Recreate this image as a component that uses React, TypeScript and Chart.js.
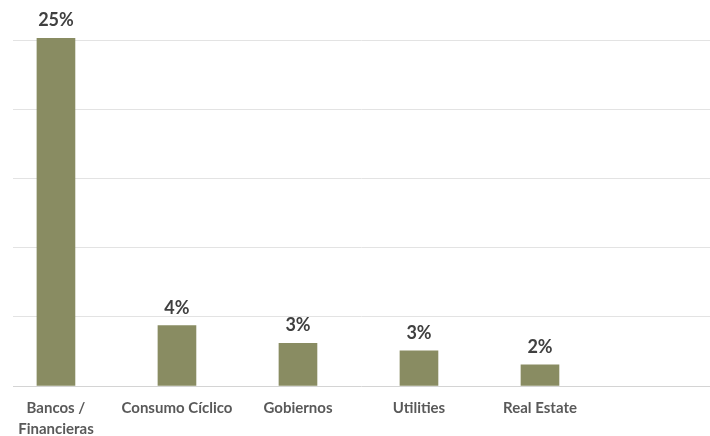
import React, { useEffect, useRef } from "react";
import { Chart, registerables } from "chart.js";

Chart.register(...registerables);

const categories: (string | string[])[] = [
  ["Bancos /", "Financieras"],
  "Consumo Cíclico",
  "Gobiernos",
  "Utilities",
  "Real Estate",
];
const values: number[] = [25.2, 4.37, 3.09, 2.54, 1.54];
const yTicks: number[] = [0, 5, 10, 15, 20, 25];

const BAR_COLOR = "#898C62";

const labelPlugin = {
  id: "barLabels",
  afterDatasetsDraw(chart: any) {
    const ctx = chart.ctx;
    const meta = chart.getDatasetMeta(0);
    ctx.save();
    ctx.fillStyle = "#404040";
    ctx.font = "bold 18px Lato";
    ctx.textAlign = "center";
    ctx.textBaseline = "alphabetic";
    meta.data.forEach((el: any, i: number) => {
      const txt = Math.round(values[i]) + "%";
      ctx.fillText(txt, el.x, el.y - 12);
    });
    ctx.restore();
  },
};

export default function App() {
  const ref = useRef<HTMLCanvasElement | null>(null);
  useEffect(() => {
    if (!ref.current) return;
    const chart = new Chart(ref.current, {
      type: "bar",
      data: {
        datasets: [
          {
            data: values.map((v, i) => ({ x: i, y: v })),
            backgroundColor: BAR_COLOR,
            barThickness: 38,
          },
        ],
      },
      options: {
        responsive: false,
        animation: false,
        events: [],
        layout: { padding: { top: 38, left: 13, right: 0, bottom: 0 } },
        plugins: { legend: { display: false }, tooltip: { enabled: false } },
        scales: {
          x: {
            type: "linear",
            offset: false,
            min: -0.355,
            max: 5.405,
            afterFit: (scale: any) => {
              scale.height = 50;
            },
            grid: { display: false, drawTicks: false },
            border: { display: false },
            ticks: {
              stepSize: 1,
              includeBounds: false,
              autoSkip: false,
              maxRotation: 0,
              padding: 12,
              color: "#595959",
              font: { family: "Lato", size: 15, weight: "bold", lineHeight: 1.4 },
              callback: (v: any) => {
                const n = Number(v);
                if (Number.isInteger(n) && n >= 0 && n < categories.length) return categories[n];
                return "";
              },
            },
          },
          y: {
            min: 0,
            max: 25.2,
            afterBuildTicks: (scale: any) => {
              scale.ticks = yTicks.map((v) => ({ value: v }));
            },
            grid: {
              drawTicks: false,
              color: (c: any) => (c.tick && c.tick.value === 0 ? "#d4d4d4" : "#e3e3e3"),
              lineWidth: 1,
            },
            border: { display: false },
            ticks: { display: false },
          },
        },
      },
      plugins: [labelPlugin],
    } as any);
    return () => chart.destroy();
  }, []);
  return (
    <div style={{ position: "absolute", left: 0, top: 0, width: 710, height: 436, background: "#fff" }}>
      <canvas ref={ref} width={710} height={436} />
    </div>
  );
}
